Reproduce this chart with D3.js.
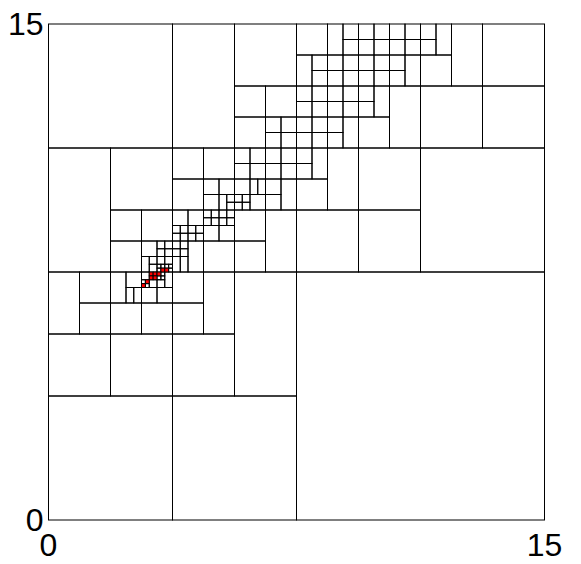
<!DOCTYPE html>
<html>
<head>
<meta charset="utf-8">
<style>
  body { margin: 0; background: #fff; }
  svg { display: block; }
  .cell { fill: none; stroke: #000; stroke-width: 1; }
  .hot { fill: #ff0000; stroke: #000; stroke-width: 1; }
  .tick { font-family: "Liberation Sans", Arial, sans-serif; font-size: 32px; fill: #000; }
</style>
</head>
<body>
<svg id="chart" width="581" height="564"></svg>
<script src="https://d3js.org/d3.v7.min.js"></script>
<script>
// axis range and the two tick labels
const extent = [0, 15];
const tickValues = [0, 15];
// the mesh is read on a 16 x 16 grid: [col0, row0, col1, row1], rows counted from the top
const divisions = 16;

const cells = [
  // coarse cells
  [8,8,16,16], [0,0,4,4], [4,0,6,4], [6,0,8,2], [0,4,2,8], [2,4,4,6], [12,4,16,8],
  [14,0,16,2], [14,2,16,4], [12,2,14,4], [13,0,14,2], [12,1,13,2], [12.5,0,13,1],
  [12,0,12.5,0.5], [12,0.5,12.5,1], [11,2,12,4], [10,3,11,4], [10.5,2,11,3],
  [10,2,10.5,2.5], [10,2.5,10.5,3], [11.5,1,12,2], [11,1,11.5,1.5], [11,1.5,11.5,2],
  // top band
  [9.5,0,10,0.5], [9.5,0.5,10,1], [10,0,10.5,0.5], [10,0.5,10.5,1], [10.5,0,11,0.5],
  [10.5,0.5,11,1], [11,0,11.5,0.5], [11,0.5,11.5,1], [11.5,0,12,0.5], [11.5,0.5,12,1],
  [9,1,9.5,1.5], [9,1.5,9.5,2], [9.5,1,10,1.5], [9.5,1.5,10,2], [10,1,10.5,1.5],
  [10,1.5,10.5,2], [10.5,1,11,1.5], [10.5,1.5,11,2],
  [9,0,9.5,1], [8,0,9,1], [8,1,8.5,2], [8.5,1,9,1.5], [8.5,1.5,9,2],
  [8,2,8.5,2.5], [8,2.5,8.5,3], [8.5,2,9,2.5], [8.5,2.5,9,3], [9,2,9.5,2.5],
  [9,2.5,9.5,3], [9.5,2,10,2.5], [9.5,2.5,10,3],
  [8,3,8.5,3.5], [8,3.5,8.5,4], [8.5,3,9,3.5], [8.5,3.5,9,4], [9,3,9.5,3.5],
  [9,3.5,9.5,4], [9.5,3,10,4],
  [6,2,7,3], [6,3,7,4], [7,2,8,3], [7,3,7.5,3.5], [7.5,3,8,3.5], [7,3.5,7.5,4], [7.5,3.5,8,4],
  // right middle
  [8,4,8.5,4.5], [8,4.5,8.5,5], [8.5,4,9,5], [8,5,9,6], [9,4,10,6], [10,4,12,6],
  [8,6,10,8], [10,6,12,8],
  // centre
  [4,4,5,5], [4,5,5,6], [5,4,6,5],
  [5,5,5.5,5.5], [5,5.5,5.5,6], [5.5,5,6,5.5], [5.5,5.5,5.75,6], [5.75,5.5,6,5.75], [5.75,5.75,6,6],
  [6,4,6.5,4.5], [6,4.5,6.5,5], [6.5,4,7,4.5], [6.5,4.5,7,5],
  [6,5,6.5,5.5], [6,5.5,6.25,5.75], [6,5.75,6.25,6], [6.25,5.5,6.5,5.75], [6.25,5.75,6.5,6],
  [6.5,5,6.75,5.5], [6.75,5,7,5.5], [6.5,5.5,7,6],
  [7,4,7.5,4.5], [7,4.5,7.5,5], [7.5,4,8,4.5], [7.5,4.5,8,5],
  [7,5,7.5,5.5], [7,5.5,7.5,6], [7.5,5,8,6],
  [6,6,7,7], [6,7,7,8], [7,6,8,8],
  [5,6,5.25,6.25], [5.25,6,5.5,6.25], [5.5,6,5.75,6.25], [5.75,6,6,6.25],
  [5,6.25,5.25,6.5], [5.25,6.25,5.5,6.5], [5.5,6.25,5.75,6.5], [5.75,6.25,6,6.5],
  [5,6.5,5.5,7], [5.5,6.5,6,7], [5,7,6,8],
  [4,6,4.5,6.5], [4.5,6,5,6.5],
  [4,6.5,4.25,6.75], [4.25,6.5,4.5,6.75], [4.5,6.5,4.75,6.75], [4.75,6.5,5,6.75],
  [4,6.75,4.25,7], [4.25,6.75,4.5,7], [4.5,6.75,4.75,7], [4.75,6.75,5,7],
  [4,7,4.25,7.25], [4.25,7,4.5,7.25], [4,7.25,4.25,7.5], [4.25,7.25,4.5,7.5],
  [4,7.5,4.25,8], [4.25,7.5,4.5,8], [4.5,7,5,8],
  // left middle
  [2,6,3,7], [3,6,4,7], [2,7,3,8], [3,7,3.5,7.5],
  [3,7.5,3.25,8], [3.25,7.5,3.5,7.75], [3.25,7.75,3.5,8],
  [3.5,7,3.75,7.25], [3.75,7,4,7.25], [3.5,7.25,3.75,7.5], [3.75,7.25,4,7.5],
  [3.5,7.5,3.75,7.75], [3.75,7.5,4,7.75],
  [3.5,7.75,3.625,7.875], [3.625,7.75,3.75,7.875], [3.5,7.875,3.625,8],
  [3.75,7.75,3.875,7.875], [3.875,7.75,4,7.875], [3.875,7.875,4,8],
  // bottom left
  [0,12,4,16], [4,12,8,16], [0,10,2,12], [2,10,4,12], [4,10,6,12], [6,8,8,12],
  [0,8,1,10], [1,8,2,9], [1,9,2,10], [4,8,5,9], [4,9,5,10], [5,8,6,10],
  [2,9,3,10], [3,9,4,10],
  [2,8,2.5,9], [2.5,8.5,2.75,9], [2.75,8.5,3,9], [2.5,8,3,8.5],
  [3,8.5,3.5,9], [3.5,8.5,4,9],
  [3,8,3.25,8.25], [3,8.25,3.125,8.375], [3.125,8.375,3.25,8.5],
  [3.25,8.25,3.5,8.5],
  [3.625,8,3.75,8.125], [3.5,8.125,3.625,8.25], [3.625,8.125,3.75,8.25],
  [3.5,8.25,3.75,8.5], [3.75,8,4,8.5]
];

// red cells at the finest level
const hotCells = [
  [3.625,7.875,3.75,8], [3.75,7.875,3.875,8],
  [3.25,8,3.375,8.125], [3.375,8,3.5,8.125], [3.5,8,3.625,8.125],
  [3.25,8.125,3.375,8.25], [3.375,8.125,3.5,8.25],
  [3.125,8.25,3.25,8.375],
  [3,8.375,3.125,8.5]
];

const margin = { left: 48.5, right: 36.5, top: 24, bottom: 44 };
const width = 581, height = 564;

const x = d3.scaleLinear().domain(extent).range([margin.left, width - margin.right]);
const y = d3.scaleLinear().domain(extent).range([height - margin.bottom, margin.top]);

const toValue = g => g * extent[1] / divisions;
const colX = c => x(toValue(c));
const rowY = r => y(extent[1] - toValue(r));

const svg = d3.select('#chart');

function drawCells(data, cls) {
  svg.append('g')
    .selectAll('rect')
    .data(data)
    .enter()
    .append('rect')
    .attr('class', cls)
    .attr('x', d => colX(d[0]))
    .attr('y', d => rowY(d[1]))
    .attr('width', d => colX(d[2]) - colX(d[0]))
    .attr('height', d => rowY(d[3]) - rowY(d[1]));
}

drawCells(cells, 'cell');
drawCells(hotCells, 'hot');

// tick labels
svg.append('g')
  .selectAll('text')
  .data(tickValues)
  .enter()
  .append('text')
  .attr('class', 'tick')
  .attr('x', x(0) - 5)
  .attr('y', d => y(d))
  .attr('dy', '0.35em')
  .attr('text-anchor', 'end')
  .text(d => d);

svg.append('g')
  .selectAll('text')
  .data(tickValues)
  .enter()
  .append('text')
  .attr('class', 'tick')
  .attr('x', d => x(d))
  .attr('y', y(0) + 13)
  .attr('dy', '0.71em')
  .attr('text-anchor', 'middle')
  .text(d => d);
</script>
</body>
</html>
